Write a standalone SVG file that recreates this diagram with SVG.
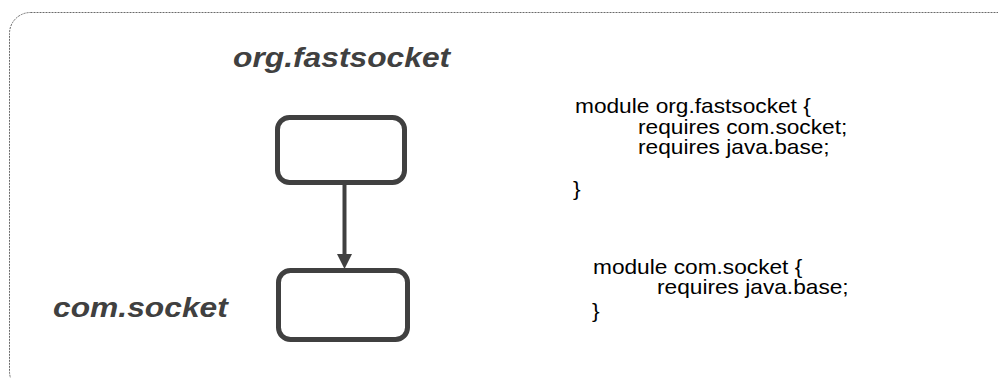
<svg xmlns="http://www.w3.org/2000/svg" width="998" height="378" viewBox="0 0 998 378">
  <style>
    .frame { fill: none; stroke: #6a6a6a; stroke-width: 1; stroke-dasharray: 2 1; }
    .node { fill: #ffffff; stroke: #404040; stroke-width: 5; }
    .edge { stroke: #404040; stroke-width: 4; fill: none; }
    .head { fill: #404040; }
    .title { font-family: "Liberation Sans", Arial, sans-serif; font-size: 28px; font-weight: bold; font-style: italic; fill: #404040; }
    .code { font-family: "Liberation Sans", Arial, sans-serif; font-size: 20px; fill: #000000; }
  </style>
  <rect width="998" height="378" fill="#ffffff"/>

  <!-- dashed module boundary -->
  <rect class="frame" x="9.5" y="12.5" width="1010" height="380" rx="21"/>

  <g id="org-fastsocket">
    <rect class="node" x="277.5" y="117.5" width="127" height="65" rx="12"/>
    <text class="title" transform="matrix(1.135 0 0 1 233 67)">org.fastsocket</text>
  </g>

  <g id="com-socket">
    <rect class="node" x="278.5" y="270.5" width="129" height="69" rx="12"/>
    <text class="title" transform="matrix(1.135 0 0 1 53 317)">com.socket</text>
  </g>

  <g id="connectors">
    <line class="edge" x1="344.5" y1="185" x2="344.5" y2="256"/>
    <polygon class="head" points="337,254 352,254 344.5,269"/>
  </g>

  <g id="decl-org-fastsocket">
    <text class="code" transform="matrix(1.135 0 0 1 575 113)">module org.fastsocket {</text>
    <text class="code" transform="matrix(1.135 0 0 1 638 134)">requires com.socket;</text>
    <text class="code" transform="matrix(1.135 0 0 1 638 154)">requires java.base;</text>
    <text class="code" transform="matrix(1.135 0 0 1 573 196)">}</text>
  </g>

  <g id="decl-com-socket">
    <text class="code" transform="matrix(1.135 0 0 1 593 274)">module com.socket {</text>
    <text class="code" transform="matrix(1.135 0 0 1 657 294)">requires java.base;</text>
    <text class="code" transform="matrix(1.135 0 0 1 592 318)">}</text>
  </g>
</svg>
